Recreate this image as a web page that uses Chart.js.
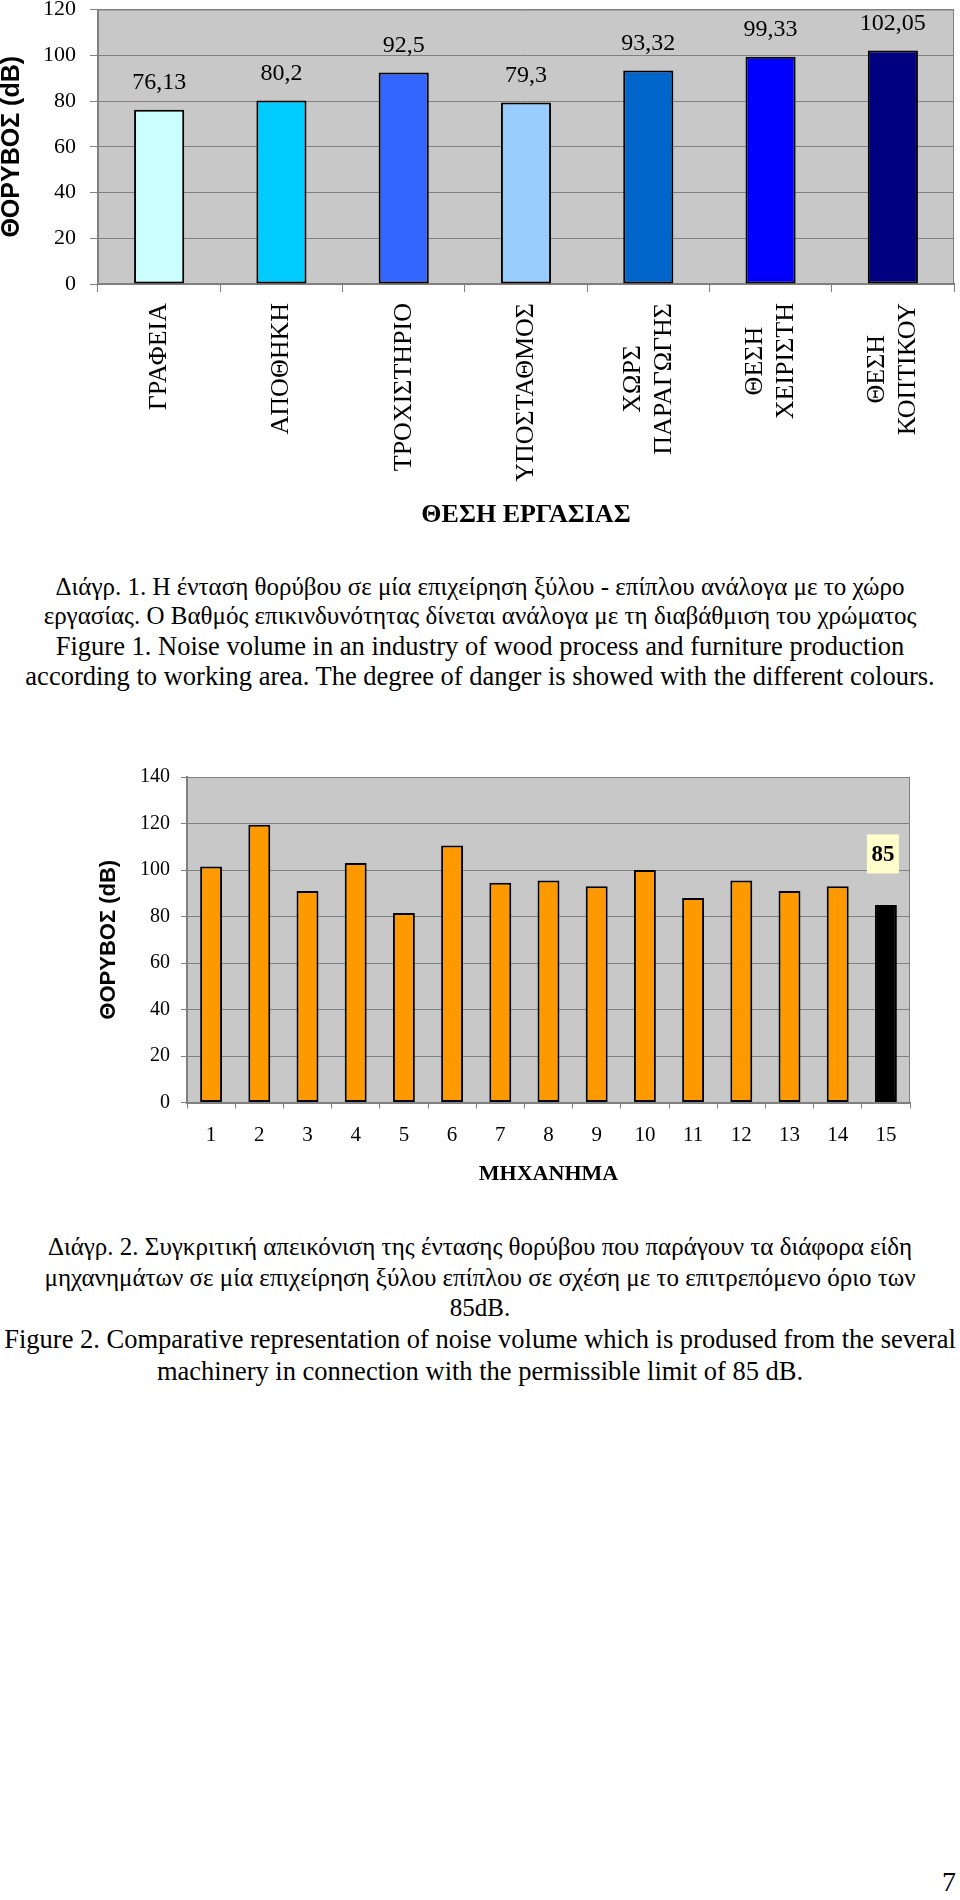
<!DOCTYPE html>
<html>
<head>
<meta charset="utf-8">
<script src="https://cdn.jsdelivr.net/npm/chart.js@4.4.1/dist/chart.umd.min.js"></script>
<style>
    body { margin: 0; width: 960px; height: 1900px; position: relative; background: #fff; overflow: hidden;
           font-family: "Liberation Serif", "Times New Roman", serif; color: #000; }
    .wrap { position: absolute; left: 0; width: 960px; }
    #wrap1 { top: 0; height: 540px; }
    #wrap2 { top: 740px; height: 460px; }
    .caption { position: absolute; left: 0; width: 960px; text-align: center; font-size: 25px;
               line-height: 28.7px; white-space: nowrap; }
    .caption .en { font-size: 26.5px; }
    #cap1 { top: 573px; }
    #cap1en { top: 632px; }
    #cap2 { top: 1232px; line-height: 30.7px; }
    #page { position: absolute; right: 4px; top: 1866px; font-size: 28px; }
</style>
</head>
<body>
<div class="wrap" id="wrap1"><canvas id="areaChart" width="960" height="540"></canvas></div>
<div class="caption" id="cap1">
    Διάγρ. 1. Η ένταση θορύβου σε μία επιχείρηση ξύλου - επίπλου ανάλογα με το χώρο<br>
    εργασίας. Ο Βαθμός επικινδυνότητας δίνεται ανάλογα με τη διαβάθμιση του χρώματος
</div>
<div class="caption" id="cap1en">
    <span class="en">Figure 1. Noise volume in an industry of wood process and furniture production<br>
    according to working area. The degree of danger is showed with the different colours.</span>
</div>
<div class="wrap" id="wrap2"><canvas id="machineChart" width="960" height="460"></canvas></div>
<div class="caption" id="cap2">
    Διάγρ. 2. Συγκριτική απεικόνιση της έντασης θορύβου που παράγουν τα διάφορα είδη<br>
    μηχανημάτων σε μία επιχείρηση ξύλου επίπλου σε σχέση με το επιτρεπόμενο όριο των<br>
    85dB.<br>
    <span class="en">Figure 2. Comparative representation of noise volume which is prodused from the several<br>
    machinery in connection with the permissible limit of 85 dB.</span>
</div>
<div id="page">7</div>

<script>
// chart 1 - noise per working area
const areas = [['ΓΡΑΦΕΙΑ'], ['ΑΠΟΘΗΚΗ'], ['ΤΡΟΧΙΣΤΗΡΙΟ'], ['ΥΠΟΣΤΑΘΜΟΣ'],
    ['ΧΩΡΣ', 'ΠΑΡΑΓΩΓΗΣ'], ['ΘΕΣΗ', 'ΧΕΙΡΙΣΤΗ'], ['ΘΕΣΗ', 'ΚΟΠΤΙΚΟΥ']];
const areaNoise = [76.13, 80.2, 92.5, 79.3, 93.32, 99.33, 102.05];
const areaColors = ['#CCFFFF', '#00CCFF', '#3366FF', '#99CCFF', '#0066CC', '#0000FF', '#000080'];
const areaTicks = [0, 20, 40, 60, 80, 100, 120];

// chart 2 - noise per machine, last bar is the permitted limit
const machines = ['1', '2', '3', '4', '5', '6', '7', '8', '9', '10', '11', '12', '13', '14', '15'];
const machineNoise = [101.5, 119.5, 91, 103, 81.5, 110.5, 94.5, 95.5, 93, 100, 88, 95.5, 91, 93, 85];
const machineTicks = [0, 20, 40, 60, 80, 100, 120, 140];
const noiseLimit = 85;

const serif = 'Liberation Serif';
const gridGray = '#808080';

// gray plot area with a thin frame, like the spreadsheet charts
const plotFrame = {
    id: 'plotFrame',
    beforeDraw(chart) {
        const { ctx, chartArea: a } = chart;
        ctx.save();
        ctx.fillStyle = '#C8C8C8';
        ctx.fillRect(a.left, a.top, a.right - a.left, a.bottom - a.top);
        ctx.restore();
    },
    beforeDatasetsDraw(chart) {
        const { ctx, chartArea: a } = chart;
        ctx.save();
        ctx.strokeStyle = gridGray;
        ctx.lineWidth = 1;
        ctx.strokeRect(a.left + 0.5, a.top + 0.5, a.right - a.left - 1, a.bottom - a.top);
        ctx.restore();
    }
};

const valueLabels = {
    id: 'valueLabels',
    afterDatasetsDraw(chart) {
        const ctx = chart.ctx;
        ctx.save();
        ctx.font = '24px "' + serif + '"';
        ctx.textAlign = 'center';
        ctx.textBaseline = 'middle';
        ctx.fillStyle = '#000';
        chart.getDatasetMeta(0).data.forEach((bar, i) => {
            ctx.fillText(String(areaNoise[i]).replace('.', ','), bar.x, bar.y - 27);
        });
        ctx.restore();
    }
};

// rotated category names, lines centred on each other and hung from the axis
const areaLabels = {
    id: 'areaLabels',
    afterDraw(chart) {
        const { ctx } = chart;
        const x = chart.scales.x;
        const lh = 31;
        const top = x.top + 19;
        ctx.save();
        ctx.font = '26px "' + serif + '"';
        ctx.textAlign = 'center';
        ctx.textBaseline = 'middle';
        ctx.fillStyle = '#000';
        areas.forEach((lines, i) => {
            const px = x.getPixelForTick(i);
            const w = Math.max(...lines.map(l => ctx.measureText(l).width));
            lines.forEach((line, j) => {
                ctx.save();
                ctx.translate(px + (j - (lines.length - 1) / 2) * lh, top + w / 2);
                ctx.rotate(-Math.PI / 2);
                ctx.fillText(line, 0, 0);
                ctx.restore();
            });
        });
        ctx.restore();
    }
};

const limitLabel = {
    id: 'limitLabel',
    afterDatasetsDraw(chart) {
        const { ctx } = chart;
        const bar = chart.getDatasetMeta(0).data[machines.length - 1];
        const cx = bar.x - 3, cy = bar.y - 51;
        ctx.save();
        ctx.fillStyle = '#FFFFCC';
        ctx.fillRect(cx - 16, cy - 19.5, 32, 39);
        ctx.font = 'bold 23px "' + serif + '"';
        ctx.textAlign = 'center';
        ctx.textBaseline = 'middle';
        ctx.fillStyle = '#000';
        ctx.fillText(String(noiseLimit), cx, cy + 1);
        ctx.restore();
    }
};

new Chart(document.getElementById('areaChart'), {
    type: 'bar',
    data: {
        labels: areas,
        datasets: [{
            data: areaNoise,
            backgroundColor: areaColors,
            borderColor: '#000',
            borderWidth: 2,
            borderSkipped: false,
            barPercentage: 0.41,
            categoryPercentage: 1
        }]
    },
    options: {
        responsive: false,
        animation: false,
        layout: { padding: { left: 0, right: 6, top: 9.5, bottom: 9 } },
        plugins: { legend: { display: false }, tooltip: { enabled: false } },
        scales: {
            x: {
                grid: { drawOnChartArea: false, color: gridGray, tickLength: 8, offset: true },
                border: { color: gridGray, width: 2 },
                ticks: { display: false },
                title: { display: true, text: 'ΘΕΣΗ ΕΡΓΑΣΙΑΣ', color: '#000', padding: 0,
                         font: { family: serif, size: 26, weight: 'bold' } },
                afterFit: s => { s.height = 247; s.paddingLeft = 0; s.paddingRight = 0; }
            },
            y: {
                min: 0,
                max: 120,
                afterBuildTicks: s => { s.ticks = areaTicks.map(v => ({ value: v })); },
                grid: { color: gridGray, tickLength: 8 },
                border: { color: gridGray, width: 2 },
                ticks: { color: '#000', padding: 14, font: { family: serif, size: 22 } },
                title: { display: true, text: 'ΘΟΡΥΒΟΣ (dB)', color: '#000', padding: 0,
                         font: { family: 'Liberation Sans', size: 25, weight: 'bold', lineHeight: 1 } },
                afterFit: s => { s.width = 98; s.paddingTop = 0; s.paddingBottom = 0; }
            }
        }
    },
    plugins: [plotFrame, valueLabels, areaLabels]
});

new Chart(document.getElementById('machineChart'), {
    type: 'bar',
    data: {
        labels: machines,
        datasets: [{
            data: machineNoise,
            backgroundColor: machines.map((m, i) => i === machines.length - 1 ? '#000000' : '#FF9900'),
            borderColor: '#000',
            borderWidth: 2,
            borderSkipped: false,
            barPercentage: 0.455,
            categoryPercentage: 1
        }]
    },
    options: {
        responsive: false,
        animation: false,
        layout: { padding: { left: 0, right: 50, top: 37, bottom: 7.5 } },
        plugins: { legend: { display: false }, tooltip: { enabled: false } },
        scales: {
            x: {
                grid: { drawOnChartArea: false, color: gridGray, tickLength: 6, offset: true },
                border: { color: gridGray, width: 2 },
                ticks: { color: '#000', padding: 14, maxRotation: 0, font: { family: serif, size: 21 } },
                title: { display: true, text: 'ΜΗΧΑΝΗΜΑ', color: '#000', padding: { top: 0, bottom: 5 },
                         font: { family: serif, size: 22, weight: 'bold' } },
                afterFit: s => { s.height = 90; s.paddingLeft = 0; s.paddingRight = 0; }
            },
            y: {
                min: 0,
                max: 140,
                afterBuildTicks: s => { s.ticks = machineTicks.map(v => ({ value: v })); },
                grid: { color: gridGray, tickLength: 6 },
                border: { color: gridGray, width: 2 },
                ticks: { color: '#000', padding: 11, font: { family: serif, size: 20 } },
                title: { display: true, text: 'ΘΟΡΥΒΟΣ (dB)', color: '#000', padding: { top: 98, bottom: 0 },
                         font: { family: 'Liberation Sans', size: 22, weight: 'bold', lineHeight: 1 } },
                afterFit: s => { s.width = 187; s.paddingTop = 0; s.paddingBottom = 0; }
            }
        }
    },
    plugins: [plotFrame, limitLabel]
});
</script>
</body>
</html>
